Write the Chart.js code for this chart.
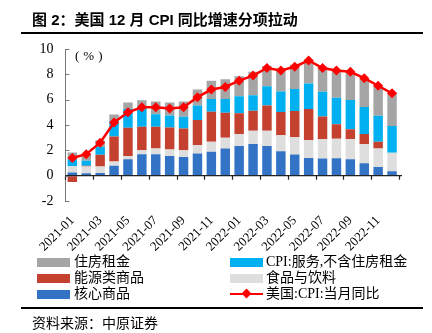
<!DOCTYPE html>
<html>
<head>
<meta charset="utf-8">
<script src="https://cdn.jsdelivr.net/npm/chart.js@4.4.1/dist/chart.umd.min.js"></script>
<style>
  body { margin: 0; background: #fff; }
  #wrap { position: relative; width: 432px; height: 333px; overflow: hidden;
          font-family: "Liberation Serif", "Noto Sans CJK SC", serif; color: #000; }
  canvas { position: absolute; left: 0; top: 0; }
  .t { position: absolute; white-space: nowrap; line-height: 1; }
  .rule { position: absolute; left: 21px; width: 402px; height: 2px; background: #000; }
  .sw { position: absolute; width: 33px; height: 9px; }
  .lg { position: absolute; font-size: 14px; line-height: 1; white-space: nowrap; }
</style>
</head>
<body>
<div id="wrap">
  <canvas id="myChart" width="432" height="333"></canvas>

  <div class="t" style="left:32px;top:8px;font:bold 15px 'Liberation Sans','Noto Sans CJK SC',sans-serif;">图 2：美国 12 月 CPI 同比增速分项拉动</div>
  <div class="rule" style="top:32px;"></div>
  <div class="t" style="left:75px;top:49px;font-size:13px;letter-spacing:4px;font-family:'Liberation Serif',serif;">(%)</div>

  <div class="sw" style="left:37px;top:258px;background:#a5a5a5;"></div>
  <div class="lg" style="left:74px;top:255px;">住房租金</div>
  <div class="sw" style="left:37px;top:274px;background:#c4412f;"></div>
  <div class="lg" style="left:74px;top:271px;">能源类商品</div>
  <div class="sw" style="left:37px;top:290px;background:#3273c6;"></div>
  <div class="lg" style="left:74px;top:287px;">核心商品</div>

  <div class="sw" style="left:230px;top:258px;background:#00b0f0;"></div>
  <div class="lg" style="left:266px;top:255px;">CPI:服务,不含住房租金</div>
  <div class="sw" style="left:230px;top:274px;background:#dedede;"></div>
  <div class="lg" style="left:266px;top:271px;">食品与饮料</div>
  <div style="position:absolute;left:230px;top:293px;width:33px;height:2px;background:#ff0000;"></div>
  <div style="position:absolute;left:243px;top:290px;width:7px;height:7px;background:#ff0000;transform:rotate(45deg);"></div>
  <div class="lg" style="left:266px;top:287px;">美国:CPI:当月同比</div>

  <div class="rule" style="top:307px;"></div>
  <div class="t" style="left:32px;top:315px;font-size:14px;font-family:'Noto Sans CJK SC',sans-serif;">资料来源：中原证券</div>
</div>

<script>
// data
const labels = [
  '2021-01', '2021-02', '2021-03', '2021-04', '2021-05', '2021-06',
  '2021-07', '2021-08', '2021-09', '2021-10', '2021-11', '2021-12',
  '2022-01', '2022-02', '2022-03', '2022-04', '2022-05', '2022-06',
  '2022-07', '2022-08', '2022-09', '2022-10', '2022-11', '2022-12',
];
const coreGoods = [0.25, 0.2, 0.22, 0.78, 1.3, 1.69, 1.69, 1.56, 1.48, 1.75, 1.88, 2.14,
                   2.35, 2.5, 2.35, 1.93, 1.67, 1.4, 1.35, 1.38, 1.3, 0.98, 0.69, 0.35];
const foodBev = [0.5, 0.52, 0.5, 0.34, 0.26, 0.31, 0.45, 0.5, 0.52, 0.66, 0.79, 0.85,
                 0.93, 1.04, 1.19, 1.27, 1.38, 1.4, 1.52, 1.54, 1.57, 1.5, 1.45, 1.45];
const energy = [-0.5, 0.06, 0.93, 1.98, 2.22, 1.86, 1.72, 1.75, 1.73, 1.98, 2.38, 1.98,
                1.64, 1.59, 1.99, 1.83, 2.05, 2.47, 1.81, 1.14, 0.79, 0.8, 0.53, 0];
const servicesExRent = [0.55, 0.4, 0.62, 1.22, 1.48, 1.59, 0.99, 0.94, 0.93, 1.14, 1.01, 1.09,
                        1.35, 1.22, 1.53, 1.61, 1.75, 2.0, 1.95, 2.1, 2.32, 2.14, 2.07, 2.12];
const rent = [0.52, 0.54, 0.53, 0.5, 0.51, 0.5, 1.0, 1.02, 1.19, 1.27, 1.43, 1.56,
              1.58, 1.85, 1.59, 1.81, 1.91, 1.88, 1.97, 2.19, 2.19, 2.23, 2.36, 2.63];
const cpiYoy = [1.4, 1.7, 2.6, 4.2, 5.0, 5.4, 5.4, 5.3, 5.4, 6.2, 6.8, 7.0,
                7.5, 7.9, 8.5, 8.3, 8.6, 9.1, 8.5, 8.3, 8.2, 7.7, 7.1, 6.5];
const yTicks = [-2, 0, 2, 4, 6, 8, 10];

const serif = 'Liberation Serif';

function bar(label, values, color) {
  return {
    type: 'bar', label: label, data: values, backgroundColor: color,
    borderWidth: 0, barPercentage: 0.68, categoryPercentage: 1, stack: 'cpi', order: 1,
  };
}

// zero line with ticks every two months, and inward y ticks
const axisMarks = {
  id: 'axisMarks',
  afterDatasetsDraw(chart) {
    const ctx = chart.ctx;
    const x = chart.scales.x, y = chart.scales.y;
    const area = chart.chartArea;
    const y0 = y.getPixelForValue(0);
    const step = x.getPixelForValue(1) - x.getPixelForValue(0);
    ctx.save();
    ctx.strokeStyle = '#222';
    ctx.lineWidth = 1.2;
    ctx.beginPath();
    ctx.moveTo(area.left, y0);
    ctx.lineTo(area.right + 3, y0);
    for (let k = 0; k <= labels.length; k += 2) {
      const px = Math.round(x.getPixelForValue(0) - step / 2 + k * step) + 0.5;
      ctx.moveTo(px, y0);
      ctx.lineTo(px, y0 + 4);
    }
    ctx.stroke();
    ctx.strokeStyle = '#777';
    ctx.lineWidth = 1;
    ctx.beginPath();
    yTicks.forEach(v => {
      const py = Math.round(y.getPixelForValue(v)) + 0.5;
      ctx.moveTo(area.left, py);
      ctx.lineTo(area.left + 4, py);
    });
    ctx.stroke();
    ctx.restore();
  }
};

const config = {
  data: {
    labels: labels,
    datasets: [
      {
        type: 'line', label: '美国:CPI:当月同比', data: cpiYoy, stack: 'line', order: 0,
        borderColor: '#ff0000', backgroundColor: '#ff0000', borderWidth: 2.5,
        pointStyle: 'rectRot', pointRadius: 5, pointBorderWidth: 0, tension: 0,
      },
      bar('核心商品', coreGoods, '#3273c6'),
      bar('食品与饮料', foodBev, '#dedede'),
      bar('能源类商品', energy, '#c4412f'),
      bar('CPI:服务,不含住房租金', servicesExRent, '#00b0f0'),
      bar('住房租金', rent, '#a5a5a5'),
    ]
  },
  options: {
    responsive: false,
    animation: false,
    events: [],
    layout: { padding: { left: 0, top: 49, right: 33, bottom: 82 } },
    plugins: { legend: { display: false }, tooltip: { enabled: false } },
    scales: {
      x: {
        stacked: true,
        offset: true,
        border: { display: false },
        grid: { display: false },
        ticks: {
          autoSkip: false, maxRotation: 45, minRotation: 45, padding: 4,
          color: '#000', font: { family: serif, size: 13 },
          callback: (v, i) => (i % 2 === 0 ? labels[i] : ''),
        },
        afterFit: s => { s.height = 50; },
      },
      y: {
        stacked: true,
        min: -2, max: 10,
        border: { display: true, color: '#777', width: 1 },
        grid: { display: true, drawOnChartArea: false, drawTicks: false },
        ticks: { stepSize: 2, padding: 12, color: '#000', font: { family: serif, size: 14 } },
        afterFit: s => { s.width = 65.4; },
      }
    }
  },
  plugins: [axisMarks]
};

new Chart(document.getElementById('myChart'), config);
</script>
</body>
</html>
